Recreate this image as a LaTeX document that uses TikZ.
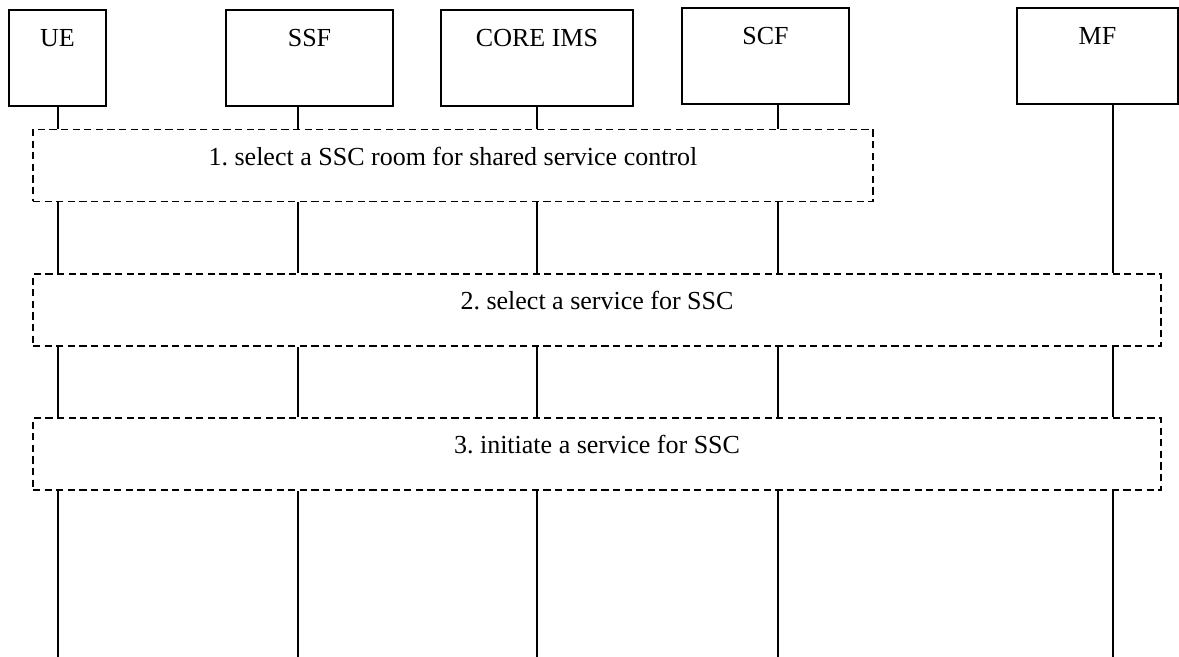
\documentclass[tikz,border=0pt]{standalone}
\usepackage{fontspec}
\setmainfont{Liberation Serif}
\usetikzlibrary{positioning}
\frenchspacing
\tikzset{
  every node/.append style={font=\fontsize{13}{15.6}\selectfont},
  entity/.style={draw,line width=0.9pt,inner sep=0pt,minimum width=#1,
    minimum height=48pt,text height=9pt,text depth=20pt},
  stepbox/.style={draw,line width=0.9pt,dash pattern=on 3.6pt off 2.2pt,
    inner sep=0pt,minimum width=#1,minimum height=36pt,text height=8pt,text depth=8pt},
  lifeline/.style={line width=0.9pt}
}

\begin{document}
\begin{tikzpicture}[x=0.5pt,y=-0.5pt]
  \useasboundingbox (0,0) rectangle (1179,657);

  % entities
  \node[entity=48.5pt] (ue)   at (57.5,58)  {UE};
  \node[entity=83.5pt] (ssf)  at (309.5,58) {SSF};
  \node[entity=96pt]   (core) at (537,58)   {CORE IMS};
  \node[entity=83.5pt] (scf)  at (765.5,56) {SCF};
  \node[entity=80.5pt] (mf)   at (1097.5,56) {MF};

  % steps
  \node[stepbox=420pt] (s1) at (453,165.5) {1. select a SSC room for shared service control};
  \node[stepbox=564pt] (s2) at (597,310)   {2. select a service for SSC};
  \node[stepbox=564pt] (s3) at (597,454)   {3. initiate a service for SSC};

  % lifeline positions
  \coordinate (x-ue)   at (58,657);
  \coordinate (x-ssf)  at (298,657);
  \coordinate (x-core) at (537,657);
  \coordinate (x-scf)  at (778,657);
  \coordinate (x-mf)   at (1113,657);

  \foreach \n in {ue,ssf,core,scf}{
    \draw[lifeline] (\n.south -| x-\n) -- (s1.north -| x-\n);
    \draw[lifeline] (s1.south -| x-\n) -- (s2.north -| x-\n);
  }
  \draw[lifeline] (mf.south -| x-mf) -- (s2.north -| x-mf);
  \foreach \n in {ue,ssf,core,scf,mf}{
    \draw[lifeline] (s2.south -| x-\n) -- (s3.north -| x-\n);
    \draw[lifeline] (s3.south -| x-\n) -- (x-\n);
  }
\end{tikzpicture}
\end{document}
